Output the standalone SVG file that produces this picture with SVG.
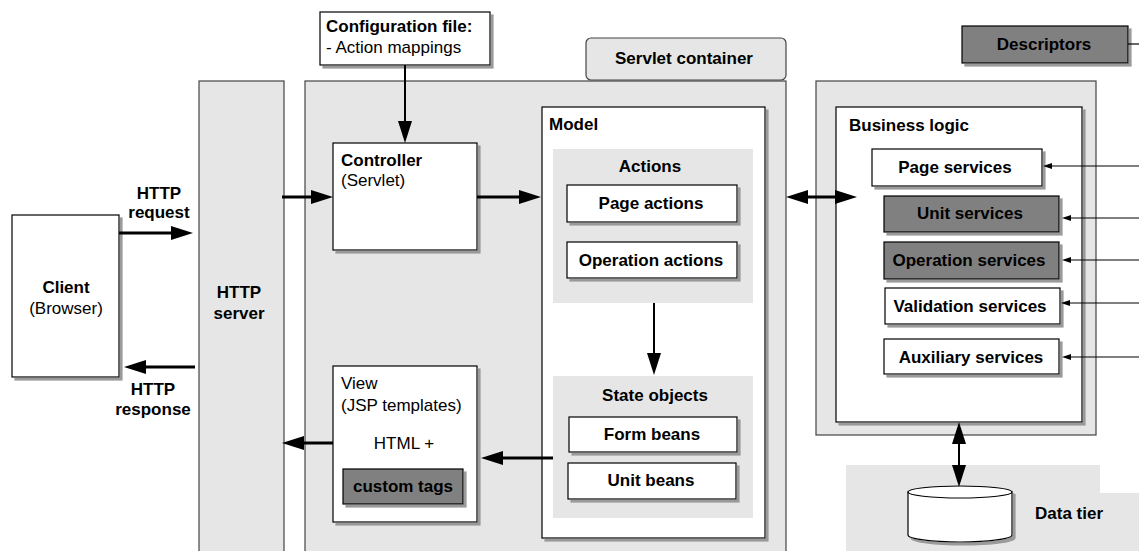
<svg xmlns="http://www.w3.org/2000/svg" width="1139" height="551" viewBox="0 0 1139 551">
<defs>
<style>
text{font-family:"Liberation Sans",Arial,sans-serif;font-size:17px;fill:#000}
.b{font-weight:bold}
.m{text-anchor:middle}
.box{fill:#fff;stroke:#000;stroke-width:1.2}
.dark{fill:#808080;stroke:#000;stroke-width:1.2}
.lg{fill:#e6e6e6;stroke:none}
.frame{fill:#e6e6e6;stroke:#444;stroke-width:1.2}
.sh{filter:url(#shadow)}
.thick{stroke:#000;stroke-width:3;fill:none}
.med{stroke:#000;stroke-width:2;fill:none}
.thin{stroke:#000;stroke-width:1.2;fill:none}
</style>
<filter id="shadow" x="-10%" y="-10%" width="130%" height="130%">
<feOffset in="SourceAlpha" dx="3" dy="3" result="o"/>
<feFlood flood-color="#9a9a9a"/>
<feComposite in2="o" operator="in"/>
<feMerge><feMergeNode/><feMergeNode in="SourceGraphic"/></feMerge>
</filter>
<marker id="big" markerUnits="userSpaceOnUse" markerWidth="22" markerHeight="14" refX="12" refY="7" orient="auto-start-reverse">
<path d="M0,0 L22,7 L0,14 Z" fill="#000"/>
</marker>
<marker id="small" markerUnits="userSpaceOnUse" markerWidth="9" markerHeight="6" refX="5" refY="3" orient="auto">
<path d="M0,0 L9,3 L0,6 Z" fill="#000"/>
</marker>
</defs>

<g id="data-tier">
<path class="lg" d="M846,465 H1100 V493 H1139 V551 H846 Z"/>
<g class="sh">
<path class="box" d="M908,492 V535 A52,7 0 0 0 1012,535 V492 Z"/>
<ellipse class="box" cx="960" cy="492" rx="52" ry="6"/>
</g>
<text class="b" x="1035" y="519">Data tier</text>
</g>

<g id="http-server">
<rect class="frame" x="199" y="81" width="85" height="480"/>
<text class="b m" x="239" y="298">HTTP</text>
<text class="b m" x="239" y="319">server</text>
</g>

<g id="servlet-container">
<rect class="frame" x="586" y="38" width="200" height="42" rx="5"/>
<text class="b m" x="684" y="64">Servlet container</text>
<rect class="frame" x="305" y="81" width="481" height="480"/>
</g>

<g id="configuration">
<rect class="box sh" x="320" y="12" width="170" height="53"/>
<text class="b" x="326" y="32">Configuration file:</text>
<text x="326" y="53">- Action mappings</text>
</g>

<g id="descriptors">
<rect class="dark sh" x="962" y="26" width="166" height="37"/>
<text class="b m" x="1044" y="50">Descriptors</text>
</g>

<g id="client">
<rect class="box sh" x="12" y="215" width="107" height="162"/>
<text class="b m" x="66" y="293">Client</text>
<text class="m" x="66" y="314">(Browser)</text>
</g>

<g id="controller">
<rect class="box sh" x="333" y="143" width="144" height="107"/>
<text class="b" x="341" y="166">Controller</text>
<text x="341" y="186">(Servlet)</text>
</g>

<g id="view">
<rect class="box sh" x="333" y="366" width="144" height="156"/>
<text x="341" y="389">View</text>
<text x="341" y="411">(JSP templates)</text>
<text class="m" x="404" y="449">HTML +</text>
<rect class="dark sh" x="343" y="469" width="120" height="35"/>
<text class="b m" x="403" y="492">custom tags</text>
</g>

<g id="model">
<rect class="box sh" x="542" y="107" width="223" height="431"/>
<text class="b" x="549" y="130">Model</text>
</g>

<g id="actions">
<rect class="lg" x="553" y="149" width="200" height="154"/>
<text class="b m" x="650" y="172">Actions</text>
</g>
<g id="page-actions">
<rect class="box sh" x="567" y="185" width="170" height="37"/>
<text class="b m" x="651" y="209">Page actions</text>
</g>
<g id="operation-actions">
<rect class="box sh" x="567" y="242" width="170" height="36"/>
<text class="b m" x="651" y="266">Operation actions</text>
</g>

<g id="state-objects">
<rect class="lg" x="553" y="376" width="200" height="142"/>
<text class="b m" x="655" y="401">State objects</text>
</g>
<g id="form-beans">
<rect class="box sh" x="569" y="417" width="168" height="35"/>
<text class="b m" x="652" y="440">Form beans</text>
</g>
<g id="unit-beans">
<rect class="box sh" x="568" y="463" width="168" height="36"/>
<text class="b m" x="651" y="486">Unit beans</text>
</g>

<g id="business-logic">
<rect class="frame" x="816" y="81" width="280" height="354"/>
<rect class="box sh" x="836" y="107" width="246" height="315"/>
<text class="b" x="849" y="131">Business logic</text>
</g>
<g id="page-services">
<rect class="box sh" x="872" y="149" width="170" height="37"/>
<text class="b m" x="955" y="173">Page services</text>
</g>
<g id="unit-services">
<rect class="dark sh" x="884" y="196" width="175" height="36"/>
<text class="b m" x="970" y="219">Unit services</text>
</g>
<g id="operation-services">
<rect class="dark sh" x="884" y="242" width="175" height="37"/>
<text class="b m" x="969" y="266">Operation services</text>
</g>
<g id="validation-services">
<rect class="box sh" x="885" y="288" width="175" height="36"/>
<text class="b m" x="970" y="312">Validation services</text>
</g>
<g id="auxiliary-services">
<rect class="box sh" x="884" y="339" width="175" height="35"/>
<text class="b m" x="971" y="363">Auxiliary services</text>
</g>

<g id="connectors">
<line class="med" x1="405" y1="65" x2="405" y2="133" marker-end="url(#big)"/>
<line class="thick" x1="119" y1="233" x2="183" y2="233" marker-end="url(#big)"/>
<text class="b m" x="159" y="199">HTTP</text>
<text class="b m" x="159" y="218">request</text>
<line class="thick" x1="195" y1="367" x2="134" y2="367" marker-end="url(#big)"/>
<text class="b m" x="153" y="395">HTTP</text>
<text class="b m" x="153" y="415">response</text>
<line class="thick" x1="282" y1="197" x2="323" y2="197" marker-end="url(#big)"/>
<line class="thick" x1="477" y1="197" x2="531" y2="197" marker-end="url(#big)"/>
<line class="med" x1="654" y1="303" x2="654" y2="365" marker-end="url(#big)"/>
<line class="thick" x1="553" y1="458" x2="491" y2="458" marker-end="url(#big)"/>
<line class="thick" x1="333" y1="443" x2="292" y2="443" marker-end="url(#big)"/>
<line class="thick" x1="796" y1="197" x2="847" y2="197" marker-start="url(#big)" marker-end="url(#big)"/>
<line class="med" x1="959" y1="432" x2="959" y2="477" marker-start="url(#big)" marker-end="url(#big)"/>
<line class="thin" x1="1128" y1="44" x2="1139" y2="44"/>
<line class="thin" x1="1139" y1="166" x2="1047" y2="166" marker-end="url(#small)"/>
<line class="thin" x1="1139" y1="218" x2="1066" y2="218" marker-end="url(#small)"/>
<line class="thin" x1="1139" y1="260" x2="1066" y2="260" marker-end="url(#small)"/>
<line class="thin" x1="1139" y1="303" x2="1065" y2="303" marker-end="url(#small)"/>
<line class="thin" x1="1139" y1="357" x2="1066" y2="357" marker-end="url(#small)"/>
</g>
</svg>
